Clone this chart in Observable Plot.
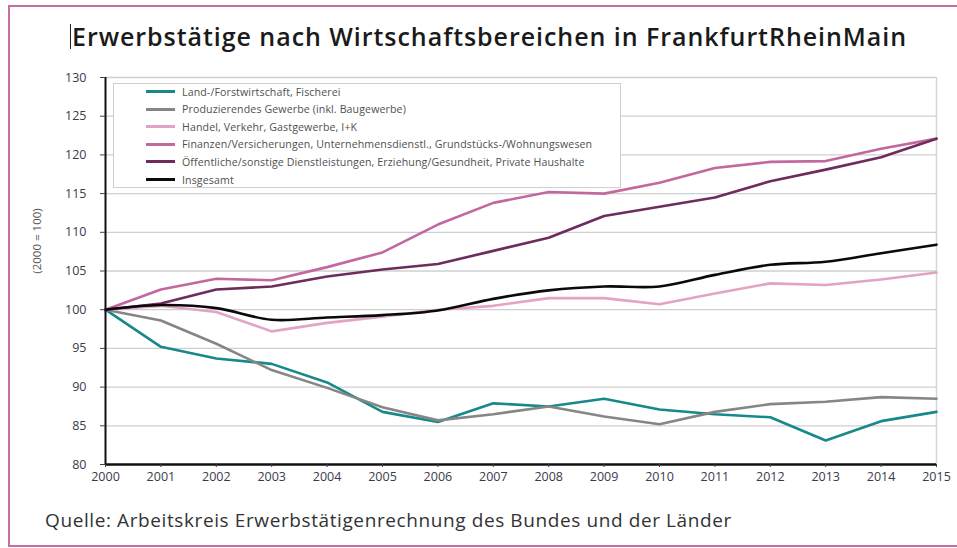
<!DOCTYPE html>
<html><head><meta charset="utf-8">
<script src="https://cdn.jsdelivr.net/npm/d3@7"></script>
<script src="https://cdn.jsdelivr.net/npm/@observablehq/plot@0.6"></script>
<style>
body{margin:0;background:#fff;font-family:"Open Sans",sans-serif;}
#wrap{position:relative;width:957px;height:548px;overflow:hidden;background:#fff;}
#frame{position:absolute;left:8px;top:5px;width:980px;height:542px;border:2px solid #c46f9f;box-sizing:border-box;}
#title{position:absolute;left:70px;top:24px;font-size:25px;line-height:25px;font-weight:600;letter-spacing:0.95px;color:#1a1a1a;white-space:nowrap;border-left:1.5px solid #222;padding-left:1px;}
#chart{position:absolute;left:0;top:60px;}
#caption{position:absolute;left:45px;top:509px;font-size:19px;line-height:22px;letter-spacing:0.6px;color:#333;white-space:nowrap;}
#legend{position:absolute;left:113px;top:83px;width:508px;height:105px;background:#fff;border:1.5px solid #cfcfcf;box-sizing:border-box;}
.row{position:absolute;left:32px;height:14px;display:flex;align-items:center;font-size:10.6px;letter-spacing:0.12px;color:#505050;white-space:nowrap;}
.sw{width:29px;height:3px;margin-right:7px;}
</style></head>
<body>
<div id="wrap">
  <div id="frame"></div>
  <div id="title">Erwerbstätige nach Wirtschaftsbereichen in FrankfurtRheinMain</div>
  <div id="chart"></div>
  <div id="legend"></div>
  <div id="caption">Quelle: Arbeitskreis Erwerbstätigenrechnung des Bundes und der Länder</div>
</div>
<script>
const years = [2000,2001,2002,2003,2004,2005,2006,2007,2008,2009,2010,2011,2012,2013,2014,2015];
const seriesNames = [
  "Land-/Forstwirtschaft, Fischerei",
  "Produzierendes Gewerbe (inkl. Baugewerbe)",
  "Handel, Verkehr, Gastgewerbe, I+K",
  "Finanzen/Versicherungen, Unternehmensdienstl., Grundstücks-/Wohnungswesen",
  "Öffentliche/sonstige Dienstleistungen, Erziehung/Gesundheit, Private Haushalte",
  "Insgesamt"
];
const landForst   = [100,95.2,93.7,93.0,90.6,86.8,85.5,87.9,87.5,88.5,87.1,86.5,86.1,83.1,85.6,86.8];
const produzierend= [100,98.6,95.6,92.2,89.9,87.4,85.7,86.5,87.5,86.2,85.2,86.8,87.8,88.1,88.7,88.5];
const handel      = [100,100.5,99.7,97.2,98.3,99.1,100.0,100.5,101.5,101.5,100.7,102.1,103.4,103.2,103.9,104.8];
const finanzen    = [100,102.6,104.0,103.8,105.5,107.4,111.0,113.8,115.2,115.0,116.4,118.3,119.1,119.2,120.8,122.1];
const oeffentlich = [100,100.8,102.6,103.0,104.3,105.2,105.9,107.6,109.3,112.1,113.3,114.5,116.6,118.1,119.7,122.1];
const insgesamt   = [100,100.6,100.2,98.7,99.0,99.3,99.9,101.4,102.5,103.0,103.0,104.5,105.8,106.2,107.3,108.4];
const yTicks = [80,85,90,95,100,105,110,115,120,125,130];
const colors = ["#17898a","#868686","#e3a3c4","#c2689f","#6e2c5c","#0a0a0a"];

const allSeries = [landForst, produzierend, handel, finanzen, oeffentlich, insgesamt];
const rows = [];
allSeries.forEach((vals, i) => vals.forEach((v, j) => rows.push({name: seriesNames[i], year: years[j], value: v})));

const lineMarks = seriesNames.map((n, i) => Plot.line(rows.filter(r => r.name === n), {
  x: "year", y: "value", stroke: colors[i], strokeWidth: 2.6,
  curve: i === 5 ? "catmull-rom" : "linear"
}));

const chart = Plot.plot({
  width: 957, height: 430,
  marginLeft: 105, marginRight: 21, marginTop: 17, marginBottom: 26,
  style: {fontFamily: "Open Sans, sans-serif", fontSize: "12px", color: "#3a3a4c", background: "transparent"},
  x: {domain: [2000, 2015]},
  y: {domain: [80, 130]},
  marks: [
    Plot.gridY(yTicks.filter(t => t > 80), {stroke: "#cfcfcf", strokeOpacity: 1, strokeWidth: 1.3}),
    Plot.ruleX([2015], {stroke: "#d5d5d5", strokeWidth: 1.5}),
    ...lineMarks,
    Plot.ruleX([2000], {stroke: "#111", strokeWidth: 2}),
    Plot.ruleY([80], {stroke: "#111", strokeWidth: 2.5}),
    Plot.axisY(yTicks, {tickSize: 5, tickPadding: 14, label: null, stroke: "#444", fill: "#3a3a4c", fontSize: 12.5}),
    Plot.axisX(years, {tickSize: 3, tickPadding: 5, tickFormat: d => String(d), label: null, fill: "#3a3a4c", fontSize: 12.5}),
    Plot.text(["(2000 = 100)"], {frameAnchor: "left", textAnchor: "middle", dx: -68, dy: -30, rotate: -90, fontSize: 11.5, fill: "#555"})
  ]
});
document.getElementById("chart").appendChild(chart);

const legend = document.getElementById("legend");
seriesNames.forEach((n, i) => {
  const r = document.createElement("div");
  r.className = "row";
  r.style.top = (0.5 + i * 17.6) + "px";
  r.innerHTML = `<span class="sw" style="background:${colors[i]}"></span><span></span>`;
  r.lastChild.textContent = n;
  legend.appendChild(r);
});
</script>
</body></html>
